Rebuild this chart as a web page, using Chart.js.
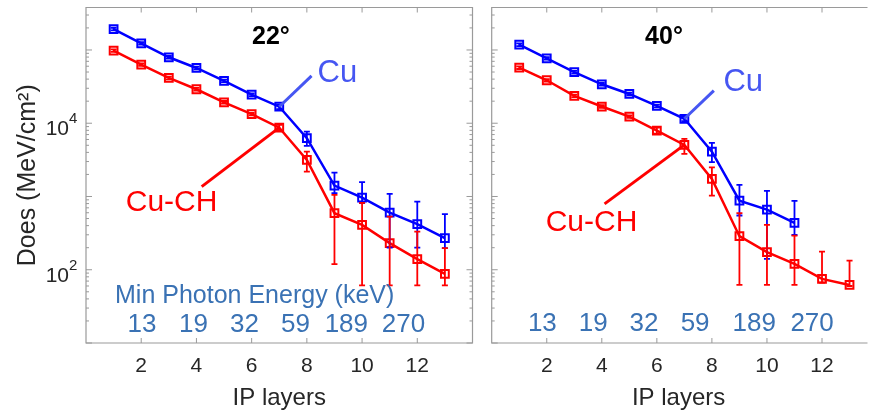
<!DOCTYPE html>
<html lang="en">
<head>
  <meta charset="UTF-8">
  <title>Dose per IP layer</title>
  <script src="https://cdn.jsdelivr.net/npm/chart.js"></script>
  <style>
    html, body { margin: 0; padding: 0; background: #fff; overflow: hidden; }
    .panel { position: absolute; top: 0; height: 417px; }
    #p22 { left: 0; width: 480px; }
    #p40 { left: 480px; width: 393px; }
  </style>
</head>
<body>
  <div class="panel" id="p22"><canvas id="chart22"></canvas></div>
  <div class="panel" id="p40"><canvas id="chart40"></canvas></div>

  <script>
    // IP layer index
    const layers = [1, 2, 3, 4, 5, 6, 7, 8, 9, 10, 11, 12, 13];
    const xTicks = [2, 4, 6, 8, 10, 12];

    // 22 degrees
    const cu22     = [193000, 123000, 79500, 56800, 37800, 24500, 16800, 6240, 1410, 966, 603, 419, 270];
    const cu22Lo   = [185000, 118000, 76300, 54500, 36300, 23500, 15600, 4900, 1110, 811, 201, 201, 197];
    const cu22Hi   = [201000, 128000, 82700, 59100, 39300, 25500, 18000, 7680, 2120, 1570, 1085, 851, 574];
    const cuch22   = [98000, 63000, 41500, 29100, 19300, 13300, 8700, 3160, 592, 410, 231, 140, 88];
    const cuch22Lo = [94000, 60500, 39800, 27900, 18500, 12800, 8000, 2190, 119, 61, 61, 61, 61];
    const cuch22Hi = [102000, 65500, 43200, 30300, 20100, 13800, 9500, 4100, 1050, 818, 532, 332, 197];

    // 40 degrees
    const cu40     = [118000, 77000, 49700, 34000, 25100, 17200, 11500, 4100, 879, 662, 437];
    const cu40Lo   = [113000, 74000, 47700, 32600, 24100, 16500, 10700, 2940, 550, 141, 299];
    const cu40Hi   = [123000, 80000, 51700, 35400, 26100, 17900, 12400, 5380, 1440, 1190, 871];
    const cuch40   = [57300, 38600, 23600, 16900, 12300, 7900, 5060, 1740, 287, 174, 120, 75, 62];
    const cuch40Lo = [55000, 37100, 22700, 16200, 11800, 7200, 3810, 1028, 62, 62, 62, 67, 60];
    const cuch40Hi = [59600, 40100, 24500, 17600, 12800, 8700, 6110, 2500, 592, 410, 293, 177, 133];

    // minimum photon energy per layer pair (keV)
    const energies = ['13', '19', '32', '59', '189', '270'];
    const yTickLabels = [[100, '2'], [10000, '4']];

    const FONT = '"Liberation Sans", Arial, Helvetica, sans-serif';
    const DARK = '#262626';
    const GRAY = '#9a9a9a';
    const BLUE = '#0000ff';
    const RED = '#ff0000';
    const NOTE_BLUE = '#4656f2';
    const ENERGY_BLUE = '#3a72b4';

    Chart.defaults.font.family = FONT;

    function pts(ys) {
      return ys.map((y, i) => ({ x: layers[i], y: y }));
    }

    function series(ys, color) {
      return {
        data: pts(ys),
        borderColor: color,
        borderWidth: 2.5,
        pointStyle: 'rect',
        pointRadius: 5.5,
        pointBorderWidth: 2,
        pointBorderColor: color,
        pointBackgroundColor: 'rgba(0,0,0,0)',
        tension: 0
      };
    }

    const panelPlugin = {
      id: 'panel',
      afterDatasetsDraw(chart, args, opts) {
        const { ctx, scales: { x, y } } = chart;
        ctx.save();
        ctx.lineWidth = 1.8;
        opts.errors.forEach(e => {
          ctx.strokeStyle = e.color;
          e.lo.forEach((lo, i) => {
            const px = x.getPixelForValue(layers[i]);
            const y1 = y.getPixelForValue(lo);
            const y2 = y.getPixelForValue(e.hi[i]);
            ctx.beginPath();
            ctx.moveTo(px, y1); ctx.lineTo(px, y2);
            ctx.moveTo(px - 3, y1); ctx.lineTo(px + 3, y1);
            ctx.moveTo(px - 3, y2); ctx.lineTo(px + 3, y2);
            ctx.stroke();
          });
        });
        ctx.restore();
      },
      afterDraw(chart, args, opts) {
        const { ctx, chartArea: a, scales: { x, y } } = chart;
        ctx.save();

        // axes box
        ctx.strokeStyle = GRAY;
        ctx.lineWidth = 1.2;
        ctx.beginPath();
        if (opts.rightEdge) {
          ctx.rect(a.left, a.top, a.right - a.left, a.bottom - a.top);
        } else {
          ctx.moveTo(a.right + 2, a.top); ctx.lineTo(a.left, a.top);
          ctx.lineTo(a.left, a.bottom); ctx.lineTo(a.right + 2, a.bottom);
        }
        ctx.stroke();

        // inward ticks
        ctx.lineWidth = 1;
        ctx.beginPath();
        xTicks.forEach(v => {
          const px = x.getPixelForValue(v);
          ctx.moveTo(px, a.bottom); ctx.lineTo(px, a.bottom - 5);
          ctx.moveTo(px, a.top); ctx.lineTo(px, a.top + 5);
        });
        for (let k = 1; k <= 5; k++) {
          for (let m = 1; m <= 9; m++) {
            const v = m * Math.pow(10, k);
            if (v < y.min || v > y.max) continue;
            const py = y.getPixelForValue(v);
            const len = m === 1 ? 6 : 3;
            ctx.moveTo(a.left, py); ctx.lineTo(a.left + len, py);
            if (opts.rightEdge) {
              ctx.moveTo(a.right, py); ctx.lineTo(a.right - len, py);
            }
          }
        }
        ctx.stroke();

        // y tick labels 10^n
        if (opts.yLabels) {
          ctx.fillStyle = DARK;
          ctx.textBaseline = 'middle';
          yTickLabels.forEach(([v, exp]) => {
            const py = y.getPixelForValue(v);
            ctx.font = '15px ' + FONT;
            ctx.textAlign = 'left';
            ctx.fillText(exp, a.left - 17, py - 4);
            ctx.font = '21px ' + FONT;
            ctx.textAlign = 'right';
            ctx.fillText('10', a.left - 17, py + 6);
          });
        }

        // leader lines
        ctx.lineWidth = 3;
        opts.leaders.forEach(l => {
          ctx.strokeStyle = l.color;
          ctx.beginPath();
          ctx.moveTo(x.getPixelForValue(l.from[0]), y.getPixelForValue(l.from[1]));
          ctx.lineTo(x.getPixelForValue(l.to[0]), y.getPixelForValue(l.to[1]));
          ctx.stroke();
        });

        // text notes
        ctx.textBaseline = 'middle';
        opts.notes.forEach(n => {
          ctx.fillStyle = n.color;
          ctx.font = n.font;
          ctx.textAlign = n.align || 'center';
          ctx.fillText(n.text, x.getPixelForValue(n.x), y.getPixelForValue(n.y));
        });

        // photon energy row
        ctx.fillStyle = ENERGY_BLUE;
        ctx.font = '26px ' + FONT;
        ctx.textAlign = 'center';
        energies.forEach((t, i) => {
          ctx.fillText(t, x.getPixelForValue(opts.energyX[i]), y.getPixelForValue(opts.energyY));
        });

        ctx.restore();
      }
    };

    function makeChart(id, cu, cuch, xMax, yWidth, padRight, showY, panel) {
      return new Chart(document.getElementById(id), {
        type: 'line',
        data: { datasets: [series(cu, BLUE), series(cuch, RED)] },
        options: {
          responsive: true,
          maintainAspectRatio: false,
          animation: false,
          layout: { padding: { top: 7, right: padRight, left: 0, bottom: 0 } },
          plugins: { legend: { display: false }, tooltip: { enabled: false }, panel: panel },
          scales: {
            x: {
              type: 'linear',
              min: 0,
              max: xMax,
              afterFit: s => { s.height = 74; },
              afterBuildTicks: s => { s.ticks = xTicks.map(v => ({ value: v })); },
              grid: { display: false, drawTicks: false },
              border: { display: false },
              ticks: {
                autoSkip: false,
                maxRotation: 0,
                padding: 11,
                color: DARK,
                font: { size: 21 },
                callback: v => String(v)
              },
              title: {
                display: true,
                text: 'IP layers',
                color: DARK,
                font: { size: 24 },
                padding: { top: 0, bottom: 4 }
              }
            },
            y: {
              type: 'logarithmic',
              min: 10,
              max: 380000,
              afterFit: s => { s.width = yWidth; },
              grid: { display: false, drawTicks: false },
              border: { display: false },
              ticks: { display: false },
              title: {
                display: showY,
                text: 'Does (MeV/cm²)',
                color: DARK,
                font: { size: 25 },
                padding: { top: 13, bottom: 0 }
              }
            }
          }
        },
        plugins: [panelPlugin]
      });
    }

    makeChart('chart22', cu22, cuch22, 14, 86, 1, true, {
      rightEdge: true,
      yLabels: true,
      errors: [
        { lo: cu22Lo, hi: cu22Hi, color: BLUE },
        { lo: cuch22Lo, hi: cuch22Hi, color: RED }
      ],
      leaders: [
        { from: [7, cu22[6]], to: [8.17, 44200], color: NOTE_BLUE },
        { from: [4.19, 1365], to: [7, cuch22[6]], color: RED }
      ],
      notes: [
        { text: '22°', x: 6.7, y: 150000, color: '#000', font: 'bold 25px ' + FONT },
        { text: 'Cu', x: 8.39, y: 48500, color: NOTE_BLUE, font: '31px ' + FONT, align: 'left' },
        { text: 'Cu-CH', x: 1.44, y: 818, color: RED, font: '30px ' + FONT, align: 'left' },
        { text: 'Min Photon Energy (keV)', x: 6.11, y: 43, color: ENERGY_BLUE, font: '25px ' + FONT }
      ],
      energyX: [2.03, 3.89, 5.74, 7.59, 9.43, 11.5],
      energyY: 17.7
    });

    makeChart('chart40', cu40, cuch40, 13.58, 11.7, 0, false, {
      rightEdge: false,
      yLabels: false,
      errors: [
        { lo: cu40Lo, hi: cu40Hi, color: BLUE },
        { lo: cuch40Lo, hi: cuch40Hi, color: RED }
      ],
      leaders: [
        { from: [7, cu40[6]], to: [8.07, 27900], color: NOTE_BLUE },
        { from: [4.1, 793], to: [7, cuch40[6]], color: RED }
      ],
      notes: [
        { text: '40°', x: 6.26, y: 150000, color: '#000', font: 'bold 25px ' + FONT },
        { text: 'Cu', x: 8.42, y: 35500, color: NOTE_BLUE, font: '31px ' + FONT, align: 'left' },
        { text: 'Cu-CH', x: 1.96, y: 436, color: RED, font: '30px ' + FONT, align: 'left' }
      ],
      energyX: [1.84, 3.69, 5.53, 7.39, 9.54, 11.64],
      energyY: 18.3
    });
  </script>
</body>
</html>
